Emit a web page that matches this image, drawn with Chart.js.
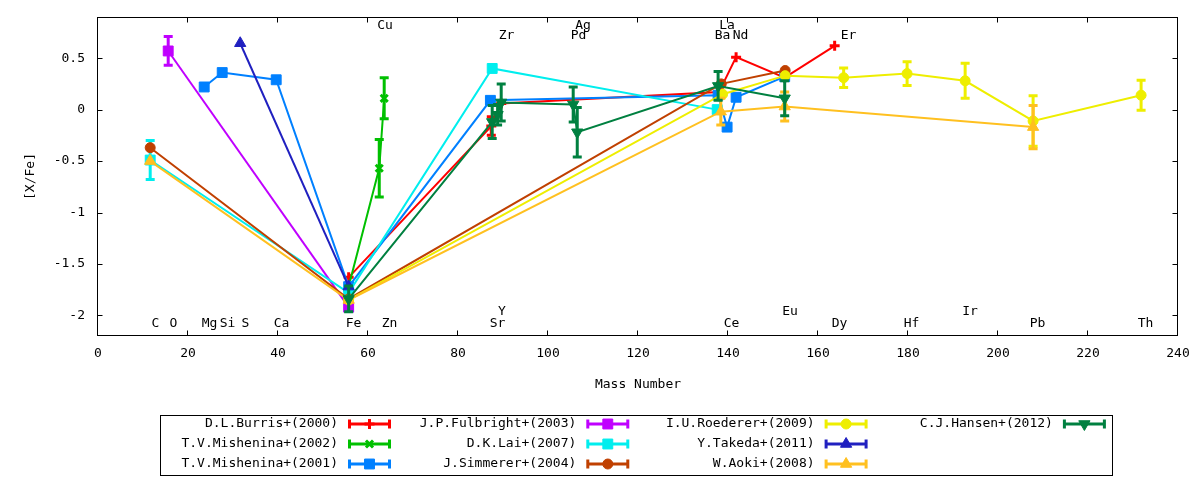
<!DOCTYPE html>
<html>
<head>
<meta charset="utf-8">
<title>[X/Fe] vs Mass Number</title>
<script src="https://cdn.jsdelivr.net/npm/chart.js@4.4.1/dist/chart.umd.min.js"></script>
<style>
    html, body { margin: 0; padding: 0; background: #fff; }
    #wrap { width: 1200px; height: 480px; }
</style>
</head>
<body>
<div id="wrap"><canvas id="abundChart" width="1200" height="480"></canvas></div>
<script>
// ticks
const xTicks = [0, 20, 40, 60, 80, 100, 120, 140, 160, 180, 200, 220, 240];
const yTicks = [-2, -1.5, -1, -0.5, 0, 0.5];

// element names written inside the plot (mass number + which row)
const elementNames = ["C", "O", "Mg", "Si", "S", "Ca", "Fe", "Zn", "Cu", "Sr", "Y", "Zr", "Pd", "Ag",
    "Ba", "La", "Ce", "Nd", "Eu", "Dy", "Er", "Hf", "Ir", "Pb", "Th"];
const elementMass = [12, 16, 24, 28, 32, 40, 56, 64, 63, 88, 89, 90, 106, 107,
    138, 139, 140, 142, 153, 164, 166, 180, 193, 208, 232];
const elementRow = ["low", "low", "low", "low", "low", "low", "low", "low", "high2", "low", "low2", "high", "high", "high2",
    "high", "high2", "low", "high", "low2", "low", "high", "low", "low2", "low", "low"];

// series (mass number, [X/Fe], error)
const burrisMass = [55.7, 87.4, 89.6, 138.0, 141.8, 152.6, 163.7];
const burrisVal  = [-1.63, -0.16, 0.06, 0.17, 0.51, 0.31, 0.62];
const burrisErr  = [0, 0.09, 0, 0, 0, 0, 0];

const mish02Mass = [55.7, 62.5, 63.6];
const mish02Val  = [-1.72, -0.57, 0.11];
const mish02Err  = [0, 0.28, 0.2];

const mish01Mass = [23.6, 27.6, 39.6, 55.7, 87.2, 137.8, 139.8, 141.8, 152.6];
const mish01Val  = [0.22, 0.36, 0.29, -1.72, 0.09, 0.14, -0.17, 0.12, 0.32];
const mish01Err  = [0, 0, 0, 0, 0, 0, 0, 0, 0];

const fulbrightMass = [15.6, 55.7];
const fulbrightVal  = [0.57, -1.92];
const fulbrightErr  = [0.14, 0];

const laiMass = [11.6, 55.7, 87.6, 137.6];
const laiVal  = [-0.49, -1.78, 0.40, 0.0];
const laiErr  = [0.19, 0, 0, 0];

const simmererMass = [11.6, 55.7, 138.5, 152.7];
const simmererVal  = [-0.37, -1.84, 0.25, 0.38];
const simmererErr  = [0, 0, 0, 0];

const roedererMass = [55.7, 138.8, 152.7, 165.7, 179.8, 192.7, 207.8, 231.8];
const roedererVal  = [-1.85, 0.15, 0.33, 0.31, 0.35, 0.28, -0.11, 0.14];
const roedererErr  = [0, 0, 0, 0.095, 0.115, 0.17, 0.245, 0.145];

const takedaMass = [31.6, 55.7];
const takedaVal  = [0.645, -1.72];
const takedaErr  = [0, 0];

const aokiMass = [11.6, 55.7, 138.4, 152.6, 207.8];
const aokiVal  = [-0.50, -1.85, -0.02, 0.03, -0.17];
const aokiErr  = [0, 0, 0.13, 0.14, 0.21];

const hansenMass = [55.7, 87.6, 88.8, 89.6, 105.6, 106.5, 137.8, 152.6];
const hansenVal  = [-1.84, -0.12, -0.05, 0.07, 0.05, -0.22, 0.23, 0.11];
const hansenErr  = [0.125, 0.16, 0.1, 0.18, 0.17, 0.24, 0.14, 0.17];

const FONT = '"DejaVu Sans Mono", "Liberation Mono", monospace';

// gnuplot-like colours / point types
const series = [
    { label: "D.L.Burris+(2000)",     mass: burrisMass,    val: burrisVal,    err: burrisErr,    color: "#ff0000", style: "cross",    radius: 5,   rot: 0 },
    { label: "T.V.Mishenina+(2002)",  mass: mish02Mass,    val: mish02Val,    err: mish02Err,    color: "#00c000", style: "crossRot", radius: 5,   rot: 0 },
    { label: "T.V.Mishenina+(2001)",  mass: mish01Mass,    val: mish01Val,    err: mish01Err,    color: "#0080ff", style: "rect",     radius: 7,   rot: 0 },
    { label: "J.P.Fulbright+(2003)",  mass: fulbrightMass, val: fulbrightVal, err: fulbrightErr, color: "#c000ff", style: "rect",     radius: 7,   rot: 0 },
    { label: "D.K.Lai+(2007)",        mass: laiMass,       val: laiVal,       err: laiErr,       color: "#00eeee", style: "rect",     radius: 7,   rot: 0 },
    { label: "J.Simmerer+(2004)",     mass: simmererMass,  val: simmererVal,  err: simmererErr,  color: "#c04000", style: "circle",   radius: 5,   rot: 0 },
    { label: "I.U.Roederer+(2009)",   mass: roedererMass,  val: roedererVal,  err: roedererErr,  color: "#eeee00", style: "circle",   radius: 5,   rot: 0 },
    { label: "Y.Takeda+(2011)",       mass: takedaMass,    val: takedaVal,    err: takedaErr,    color: "#2020c0", style: "triangle", radius: 6.5, rot: 0 },
    { label: "W.Aoki+(2008)",         mass: aokiMass,      val: aokiVal,      err: aokiErr,      color: "#ffc020", style: "triangle", radius: 6.5, rot: 0 },
    { label: "C.J.Hansen+(2012)",     mass: hansenMass,    val: hansenVal,    err: hansenErr,    color: "#008040", style: "triangle", radius: 6.5, rot: 180 }
];

const datasets = series.map((s, i) => ({
    label: s.label,
    data: s.mass.map((m, k) => ({ x: m, y: s.val[k] })),
    errors: s.err,
    showLine: true,
    borderColor: s.color,
    backgroundColor: s.color,
    borderWidth: 2,
    tension: 0,
    fill: false,
    pointStyle: s.style,
    pointRadius: s.radius,
    pointRotation: s.rot,
    pointBackgroundColor: s.color,
    pointBorderColor: s.color,
    pointBorderWidth: (s.style === "cross" || s.style === "crossRot") ? 3 : 1,
    order: series.length - i // later series on top, like gnuplot
}));

// vertical error bars with caps, drawn just before each dataset
const errorBars = {
    id: "errorBars",
    beforeDatasetDraw(chart, args) {
        const ds = chart.data.datasets[args.index];
        const errs = ds.errors || [];
        const { ctx, scales: { x, y } } = chart;
        ctx.save();
        ctx.strokeStyle = ds.borderColor;
        ctx.lineWidth = 3;
        ds.data.forEach((p, k) => {
            const e = errs[k];
            if (!e) return;
            const px = x.getPixelForValue(p.x);
            const yTop = y.getPixelForValue(p.y + e);
            const yBot = y.getPixelForValue(p.y - e);
            ctx.beginPath();
            ctx.moveTo(px, yTop); ctx.lineTo(px, yBot);
            ctx.moveTo(px - 4.5, yTop); ctx.lineTo(px + 4.5, yTop);
            ctx.moveTo(px - 4.5, yBot); ctx.lineTo(px + 4.5, yBot);
            ctx.stroke();
        });
        ctx.restore();
    }
};

// frame, inward tick marks, element names, legend box
const decorations = {
    id: "decorations",
    afterDraw(chart) {
        const { ctx, chartArea: a, scales: { x, y } } = chart;
        ctx.save();
        ctx.strokeStyle = "#000";
        ctx.lineWidth = 1;
        const L = Math.round(a.left) - 0.5, R = Math.round(a.right) - 0.5;
        const T = Math.round(a.top) + 0.5, B = Math.round(a.bottom) - 0.5;
        ctx.strokeRect(L, T, R - L, B - T);

        ctx.beginPath();
        xTicks.forEach(v => {
            const px = Math.round(x.getPixelForValue(v)) - 0.5;
            ctx.moveTo(px, B); ctx.lineTo(px, B - 5);
            ctx.moveTo(px, T); ctx.lineTo(px, T + 5);
        });
        yTicks.forEach(v => {
            const py = Math.round(y.getPixelForValue(v)) + 0.5;
            ctx.moveTo(L, py); ctx.lineTo(L + 5, py);
            ctx.moveTo(R, py); ctx.lineTo(R - 5, py);
        });
        ctx.stroke();

        // element names
        const rowValue = { high2: 0.815, high: 0.72, low2: -1.96, low: -2.075 };
        ctx.fillStyle = "#000";
        ctx.font = "13px " + FONT;
        ctx.textAlign = "center";
        ctx.textBaseline = "middle";
        elementNames.forEach((name, i) => {
            ctx.fillText(name, x.getPixelForValue(elementMass[i]) + 3.5, y.getPixelForValue(rowValue[elementRow[i]]));
        });

        // legend: 4 columns, filled column by column
        ctx.strokeRect(160.5, 415.5, 952, 60);
        const colStep = 238.3;
        series.forEach((s, i) => {
            const col = Math.floor(i / 3), row = i % 3;
            const ly = 424 + row * 20;
            const textRight = 338 + col * colStep;
            const x1 = 348 + col * colStep, x2 = 391 + col * colStep;
            ctx.fillStyle = "#000";
            ctx.textAlign = "right";
            ctx.fillText(s.label, textRight, ly);

            ctx.strokeStyle = s.color;
            ctx.fillStyle = s.color;
            ctx.lineWidth = 3;
            ctx.beginPath();
            ctx.moveTo(x1, ly); ctx.lineTo(x2, ly);
            ctx.moveTo(x1 + 1.5, ly - 4.5); ctx.lineTo(x1 + 1.5, ly + 4.5);
            ctx.moveTo(x2 - 1.5, ly - 4.5); ctx.lineTo(x2 - 1.5, ly + 4.5);
            ctx.stroke();
            const isCross = s.style === "cross" || s.style === "crossRot";
            ctx.lineWidth = isCross ? 3 : 1;
            const mx = (x1 + x2) / 2;
            if (Chart.helpers && Chart.helpers.drawPoint) {
                Chart.helpers.drawPoint(ctx, { pointStyle: s.style, radius: s.radius, rotation: s.rot, borderWidth: ctx.lineWidth }, mx, ly);
            } else {
                ctx.beginPath();
                ctx.arc(mx, ly, 5, 0, Math.PI * 2);
                ctx.fill();
            }
        });
        ctx.restore();
    }
};

Chart.defaults.font.family = FONT;
Chart.defaults.font.size = 13;
Chart.defaults.color = "#000";

new Chart(document.getElementById("abundChart"), {
    type: "scatter",
    data: { datasets },
    plugins: [errorBars, decorations],
    options: {
        responsive: false,
        animation: false,
        events: [],
        layout: { padding: { top: 17, right: 22, bottom: 0, left: 0 } },
        plugins: {
            legend: { display: false },
            tooltip: { enabled: false },
            title: { display: false }
        },
        scales: {
            x: {
                type: "linear",
                min: 0,
                max: 240,
                grid: { display: false, drawTicks: false },
                border: { display: false },
                afterBuildTicks: scale => { scale.ticks = xTicks.map(v => ({ value: v })); },
                afterFit: scale => { scale.height = 144; },
                ticks: {
                    padding: 10,
                    maxRotation: 0,
                    callback: v => String(v)
                },
                title: {
                    display: true,
                    text: "Mass Number",
                    padding: { top: 0, bottom: 88 }
                }
            },
            y: {
                type: "linear",
                min: -2.2,
                max: 0.9,
                grid: { display: false, drawTicks: false },
                border: { display: false },
                afterBuildTicks: scale => { scale.ticks = yTicks.map(v => ({ value: v })); },
                afterFit: scale => {
                    scale.width = 98;
                    scale.paddingTop = 0;
                    scale.paddingBottom = 0;
                },
                ticks: {
                    padding: 13,
                    callback: v => String(v)
                },
                title: {
                    display: true,
                    text: "[X/Fe]",
                    padding: { top: 23, bottom: 0 }
                }
            }
        }
    }
});
</script>
</body>
</html>
